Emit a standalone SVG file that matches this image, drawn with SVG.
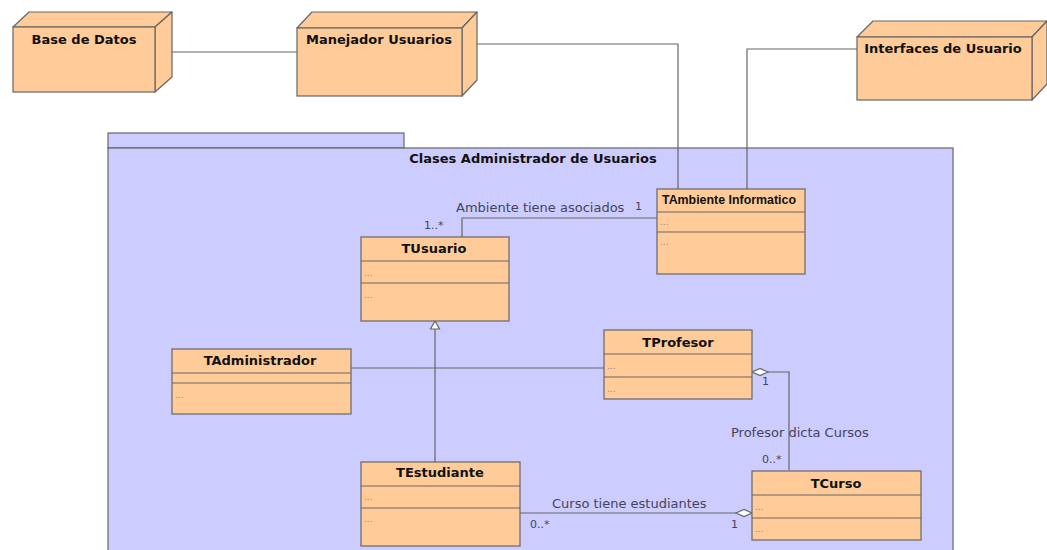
<svg xmlns="http://www.w3.org/2000/svg" width="1047" height="550" viewBox="0 0 1047 550">
  <style>
    .node { fill: #ffcc99; stroke: #666666; stroke-width: 1.2; }
    .face { fill: #ffcc99; stroke: #666666; stroke-width: 1.2; stroke-linejoin: round; }
    .pkg { fill: #ccccff; stroke: #666666; stroke-width: 1.2; }
    .cls { fill: #ffcc99; stroke: #666666; stroke-width: 1.2; }
    .div { stroke: #666666; stroke-width: 1.2; }
    .edge { fill: none; stroke: #666666; stroke-width: 1.2; }
    .title { font-family: "DejaVu Sans", "Liberation Sans", sans-serif; font-weight: bold; font-size: 13px; fill: #111111; }
    .ctitle { font-family: "DejaVu Sans", "Liberation Sans", sans-serif; font-weight: bold; font-size: 13px; fill: #111111; text-anchor: middle; }
    .dots { font-family: "DejaVu Sans", sans-serif; font-size: 9px; fill: #888888; }
    .lbl { font-family: "DejaVu Sans", "Liberation Sans", sans-serif; font-size: 13px; fill: #44445a; }
    .mult { font-family: "DejaVu Sans", "Liberation Sans", sans-serif; font-size: 11px; fill: #44445a; }
  </style>
  <rect width="1047" height="550" fill="#ffffff"/>

  <!-- package frame -->
  <g id="pkg-clases">
    <rect class="pkg" x="108" y="133" width="296" height="15"/>
    <rect class="pkg" x="108" y="148" width="845" height="410"/>
    <text class="title" x="533" y="163" text-anchor="middle">Clases Administrador de Usuarios</text>
  </g>

  <!-- connectors -->
  <g id="connectors">
    <line class="edge" x1="172" y1="52" x2="297" y2="52"/>
    <polyline class="edge" points="477,44 678,44 678,189"/>
    <polyline class="edge" points="857,49 747,49 747,189"/>
    <polyline class="edge" points="657,218 462,218 462,237"/>
    <line class="edge" x1="435" y1="462" x2="435" y2="329"/>
    <polygon points="435,321 430.5,329 439.5,329" fill="#ffffff" stroke="#666666" stroke-width="1.2"/>
    <line class="edge" x1="351" y1="368" x2="604" y2="368"/>
    <polyline class="edge" points="768,372 789,372 789,470"/>
    <polygon points="752,372 760,368.5 768,372 760,375.5" fill="#ffffff" stroke="#666666" stroke-width="1.2"/>
    <line class="edge" x1="520" y1="513" x2="736" y2="513"/>
    <polygon points="736,513 744,509.5 752,513 744,516.5" fill="#ffffff" stroke="#666666" stroke-width="1.2"/>
    <text class="lbl" x="456" y="212">Ambiente tiene asociados</text>
    <text class="mult" x="635" y="210">1</text>
    <text class="mult" x="424" y="229">1..*</text>
    <text class="lbl" x="731" y="437">Profesor dicta Cursos</text>
    <text class="mult" x="762" y="385">1</text>
    <text class="mult" x="762" y="463">0..*</text>
    <text class="lbl" x="552" y="508">Curso tiene estudiantes</text>
    <text class="mult" x="530" y="528">0..*</text>
    <text class="mult" x="731" y="528">1</text>
  </g>

  <!-- deployment nodes -->
  <g id="node-base-datos">
    <polygon class="face" points="13,27 29,12 172,12 155,27"/>
    <polygon class="face" points="155,27 172,12 172,77 155,92"/>
    <rect class="node" x="13" y="27" width="142" height="65"/>
    <text class="title" x="84" y="44" text-anchor="middle">Base de Datos</text>
  </g>
  <g id="node-manejador">
    <polygon class="face" points="297,28 312,12 477,12 462,28"/>
    <polygon class="face" points="462,28 477,12 477,80 462,96"/>
    <rect class="node" x="297" y="28" width="165" height="68"/>
    <text class="title" x="379" y="44" text-anchor="middle">Manejador Usuarios</text>
  </g>
  <g id="node-interfaces">
    <polygon class="face" points="857,37 873,21 1047,21 1032,37"/>
    <polygon class="face" points="1032,37 1047,21 1047,84 1032,100"/>
    <rect class="node" x="857" y="37" width="175" height="63"/>
    <text class="title" x="943" y="53" text-anchor="middle">Interfaces de Usuario</text>
  </g>

  <!-- classes -->
  <g id="cls-tambiente">
    <rect class="cls" x="657" y="189" width="148" height="85"/>
    <line class="div" x1="657" y1="212" x2="805" y2="212"/>
    <line class="div" x1="657" y1="232" x2="805" y2="232"/>
    <text x="662" y="204" font-family="Liberation Sans, Arial, sans-serif" font-weight="bold" font-size="12.4" fill="#111111">TAmbiente Informatico</text>
    <text class="dots" x="660" y="225">...</text>
    <text class="dots" x="660" y="245">...</text>
  </g>
  <g id="cls-tusuario">
    <rect class="cls" x="361" y="237" width="148" height="84"/>
    <line class="div" x1="361" y1="261" x2="509" y2="261"/>
    <line class="div" x1="361" y1="283" x2="509" y2="283"/>
    <text class="ctitle" x="434" y="253">TUsuario</text>
    <text class="dots" x="364" y="276">...</text>
    <text class="dots" x="364" y="298">...</text>
  </g>
  <g id="cls-tadministrador">
    <rect class="cls" x="172" y="349" width="179" height="65"/>
    <line class="div" x1="172" y1="373" x2="351" y2="373"/>
    <line class="div" x1="172" y1="383" x2="351" y2="383"/>
    <text class="ctitle" x="260" y="365">TAdministrador</text>
    <text class="dots" x="175" y="398">...</text>
  </g>
  <g id="cls-tprofesor">
    <rect class="cls" x="604" y="330" width="148" height="69"/>
    <line class="div" x1="604" y1="354" x2="752" y2="354"/>
    <line class="div" x1="604" y1="377" x2="752" y2="377"/>
    <text class="ctitle" x="678" y="347">TProfesor</text>
    <text class="dots" x="607" y="369">...</text>
    <text class="dots" x="607" y="392">...</text>
  </g>
  <g id="cls-testudiante">
    <rect class="cls" x="361" y="462" width="159" height="84"/>
    <line class="div" x1="361" y1="486" x2="520" y2="486"/>
    <line class="div" x1="361" y1="508" x2="520" y2="508"/>
    <text class="ctitle" x="440" y="477">TEstudiante</text>
    <text class="dots" x="364" y="500">...</text>
    <text class="dots" x="364" y="522">...</text>
  </g>
  <g id="cls-tcurso">
    <rect class="cls" x="752" y="471" width="169" height="69"/>
    <line class="div" x1="752" y1="495" x2="921" y2="495"/>
    <line class="div" x1="752" y1="518" x2="921" y2="518"/>
    <text class="ctitle" x="836" y="488">TCurso</text>
    <text class="dots" x="755" y="510">...</text>
    <text class="dots" x="755" y="532">...</text>
  </g>
</svg>
